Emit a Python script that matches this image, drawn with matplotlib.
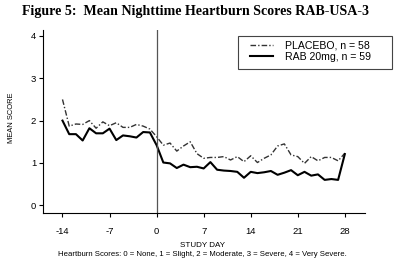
import numpy as np
import matplotlib
matplotlib.use("Agg")
import matplotlib.pyplot as plt
from matplotlib.patches import Rectangle

plt.rcParams["axes.unicode_minus"] = False

# study days -14 .. 28
days = list(range(-14, 29))

placebo = [2.50, 1.87, 1.92, 1.91, 2.00, 1.82, 1.97, 1.88, 1.95, 1.84,
           1.84, 1.91, 1.87, 1.80, 1.62, 1.42, 1.47, 1.28, 1.40, 1.50,
           1.22, 1.11, 1.13, 1.13, 1.15, 1.07, 1.15, 1.03, 1.17, 1.01,
           1.11, 1.19, 1.40, 1.45, 1.19, 1.15, 0.99, 1.15, 1.05, 1.13,
           1.13, 1.05, 1.23]

rab20 = [2.00, 1.68, 1.68, 1.53, 1.82, 1.70, 1.70, 1.81, 1.54, 1.65,
         1.63, 1.60, 1.73, 1.72, 1.42, 1.01, 0.99, 0.88, 0.96, 0.90,
         0.91, 0.87, 1.02, 0.84, 0.82, 0.81, 0.79, 0.65, 0.79, 0.76,
         0.78, 0.81, 0.72, 0.77, 0.83, 0.71, 0.79, 0.70, 0.73, 0.60,
         0.62, 0.60, 1.21]

x_ticks = [-14, -7, 0, 7, 14, 21, 28]
y_ticks = [0, 1, 2, 3, 4]

W, H = 400, 265
fig = plt.figure(figsize=(W / 100, H / 100), dpi=100)
fig.patch.set_facecolor("white")

# axes box in pixel terms (left, top, right, bottom)
left, top, right, bottom = 43, 30, 365, 212.7
ax = fig.add_axes([left / W, 1 - bottom / H, (right - left) / W, (bottom - top) / H])

p_line, = ax.plot(days, placebo, color="#333333", lw=1.0, linestyle=(0, (4, 1.5, 1, 1.5)))
r_line, = ax.plot(days, rab20, color="black", lw=1.5)
ax.axvline(0, color="#555555", lw=0.9)

ax.set_xlim(-16.9, 31.0)
ax.set_ylim(-0.175, 4.14)
ax.set_xticks(x_ticks)
ax.set_yticks(y_ticks)
ax.tick_params(direction="out", length=3, width=0.8, labelsize=6.8, pad=2)
for s in ["top", "right"]:
    ax.spines[s].set_visible(False)
ax.spines["left"].set_linewidth(0.8)
ax.spines["bottom"].set_linewidth(0.8)

sans = ["Liberation Sans", "DejaVu Sans"]
for lab in ax.get_xticklabels() + ax.get_yticklabels():
    lab.set_family(sans)
ax.tick_params(axis="x", pad=7)

fig.text(22 / W, 1 - 11 / H, "Figure 5:  Mean Nighttime Heartburn Scores RAB-USA-3",
         family="Liberation Serif", fontweight="bold", fontsize=10.1, va="center", ha="left")
fig.text(12 / W, 1 - 118 / H, "MEAN SCORE", rotation=90, family=sans,
         fontsize=5.4, ha="center", va="center")
fig.text(203 / W, 1 - 245.5 / H, "STUDY DAY", family=sans, fontsize=5.8,
         ha="center", va="center")
fig.text(202 / W, 1 - 254.5 / H,
         "Heartburn Scores: 0 = None, 1 = Slight, 2 = Moderate, 3 = Severe, 4 = Very Severe.",
         family=sans, fontsize=5.6, ha="center", va="center")

# legend box drawn separately so it can match the reference size
fig.patches.append(Rectangle((237.7 / W, 1 - 69.3 / H), (392 - 237.7) / W, 33.3 / H,
                             transform=fig.transFigure, facecolor="white",
                             edgecolor="#444444", lw=0.8, zorder=3))
leg = fig.legend([p_line, r_line], ["PLACEBO, n = 58", "RAB 20mg, n = 59"],
                 loc="upper left", bbox_to_anchor=(250 / W, 1 - 40.5 / H),
                 frameon=False, prop={"family": sans, "size": 7.6},
                 handlelength=2.2, borderpad=0, labelspacing=0.15,
                 handletextpad=1.1, borderaxespad=0)
leg.set_zorder(4)

fig.savefig("out.png", dpi=100)
